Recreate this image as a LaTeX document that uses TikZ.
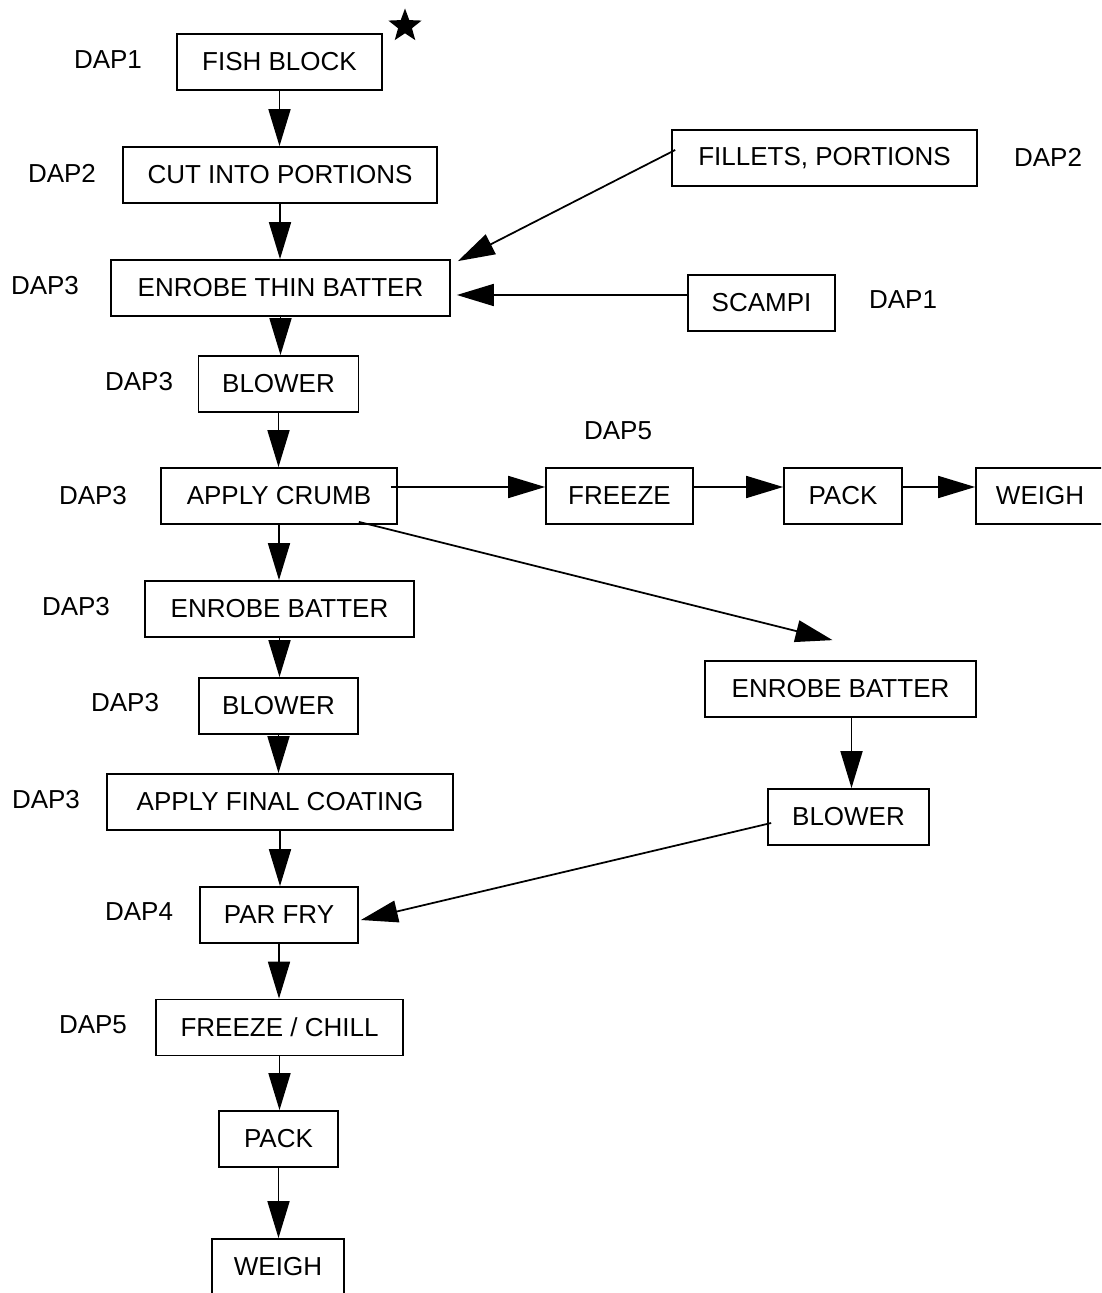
\documentclass[tikz,border=0pt]{standalone}
\usepackage{fontspec}
\setmainfont{Liberation Sans}
\usetikzlibrary{arrows.meta,shapes.geometric,calc}
\begin{document}
\begin{tikzpicture}[x=0.02cm,y=-0.02cm,
  font=\fontsize{14.8}{17}\selectfont,
  stepbox/.style={draw,line width=1pt,inner sep=0pt,minimum height=1.12cm},
  daplabel/.style={inner sep=0pt},
  flow/.style={line width=1pt,-{Triangle[length=0.74cm,width=0.44cm]}}]
\useasboundingbox (0,0) rectangle (1101,1293);
\clip (0,0) rectangle (1101,1293);

% main line of steps
\node[stepbox,minimum width=4.10cm] (fish)   at (279.5,62)   {FISH BLOCK};
\node[stepbox,minimum width=6.28cm] (cut)    at (280,175)    {CUT INTO PORTIONS};
\node[stepbox,minimum width=6.78cm] (thin)   at (280.5,288)  {ENROBE THIN BATTER};
\node[stepbox,minimum width=3.20cm] (blowA)  at (278.5,384)  {BLOWER};
\node[stepbox,minimum width=4.72cm] (crumb)  at (279,496)    {APPLY CRUMB};
\node[stepbox,minimum width=5.38cm] (batA)   at (279.5,609)  {ENROBE BATTER};
\node[stepbox,minimum width=3.18cm] (blowB)  at (278.5,706)  {BLOWER};
\node[stepbox,minimum width=6.92cm] (final)  at (280,802)    {APPLY FINAL COATING};
\node[stepbox,minimum width=3.16cm] (fry)    at (279,915)    {PAR FRY};
\node[stepbox,minimum width=4.94cm] (chill)  at (279.5,1027.5) {FREEZE / CHILL};
\node[stepbox,minimum width=2.38cm] (packA)  at (278.5,1139) {PACK};
\node[stepbox,minimum width=2.64cm] (weighA) at (278,1267)   {WEIGH};

% side inputs
\node[stepbox,minimum width=6.10cm] (fillets) at (824.5,158) {FILLETS, PORTIONS};
\node[stepbox,minimum width=2.94cm] (scampi)  at (761.5,303) {SCAMPI};

% crumbed-only branch
\node[stepbox,minimum width=2.94cm] (freeze) at (619.5,496) {FREEZE};
\node[stepbox,minimum width=2.36cm] (packB)  at (843,496)   {PACK};
\node[stepbox,minimum width=2.56cm] (weighB) at (1040,496)  {WEIGH};

% second batter branch
\node[stepbox,minimum width=5.42cm] (batB)  at (840.5,689) {ENROBE BATTER};
\node[stepbox,minimum width=3.22cm] (blowC) at (848.5,817) {BLOWER};

% hazard labels
\node[daplabel] (l1)  at (108,60)   {DAP1};
\node[daplabel] (l2)  at (62,173)   {DAP2};
\node[daplabel] (l3)  at (45,286)   {DAP3};
\node[daplabel] (l4)  at (139,382)  {DAP3};
\node[daplabel] (l5)  at (93,496)   {DAP3};
\node[daplabel] (l6)  at (76,607)   {DAP3};
\node[daplabel] (l7)  at (125,703)  {DAP3};
\node[daplabel] (l8)  at (46,800)   {DAP3};
\node[daplabel] (l9)  at (139,912)  {DAP4};
\node[daplabel] (l10) at (93,1025)  {DAP5};
\node[daplabel] (l11) at (1048,157) {DAP2};
\node[daplabel] (l12) at (903,300)  {DAP1};
\node[daplabel] (l13) at (618,431)  {DAP5};

% star marking the start
\node[star,star points=5,star point ratio=2.4,fill=black,inner sep=0pt,minimum size=0.70cm] (starmark) at (405,26) {};

% vertical flow on the main line
\draw[flow] (fish.south)   -- (fish.south |- cut.north);
\draw[flow] (cut.south)    -- (cut.south |- thin.north);
\draw[flow] (thin.south)   -- (thin.south |- blowA.north);
\draw[flow] (blowA.south)  -- (blowA.south |- crumb.north);
\draw[flow] (crumb.south)  -- (crumb.south |- batA.north);
\draw[flow] (batA.south)   -- (batA.south |- blowB.north);
\draw[flow] (blowB.south)  -- (blowB.south |- final.north);
\draw[flow] (final.south)  -- (final.south |- fry.north);
\draw[flow] (fry.south)    -- (fry.south |- chill.north);
\draw[flow] (chill.south)  -- (chill.south |- packA.north);
\draw[flow] (packA.south)  -- (packA.south |- weighA.north);

% side inputs into the thin batter
\draw[flow] ($(fillets.west)+(4,-8)$) -- ($(thin.north east)+(7,2)$);
\draw[flow] ($(scampi.west)+(0,-8)$) -- ($(thin.east)+(6,7)$);

% crumbed-only branch
\draw[flow] ($(crumb.east)+(-7,-9)$)  -- ($(freeze.west)+(0,-9)$);
\draw[flow] ($(freeze.east)+(0,-9)$)  -- ($(packB.west)+(0,-9)$);
\draw[flow] ($(packB.east)+(0,-9)$)   -- ($(weighB.west)+(0,-9)$);

% second batter branch back to frying
\draw[flow] ($(crumb.south east)+(-39,-3)$) -- ($(batB.north)+(-8,-20)$);
\coordinate (bx) at ($(batB.south)+(11,0)$);
\draw[flow] (bx) -- (bx |- blowC.north);
\draw[flow] ($(blowC.west)+(4,6)$) -- ($(fry.east)+(2,5)$);
\end{tikzpicture}
\end{document}
